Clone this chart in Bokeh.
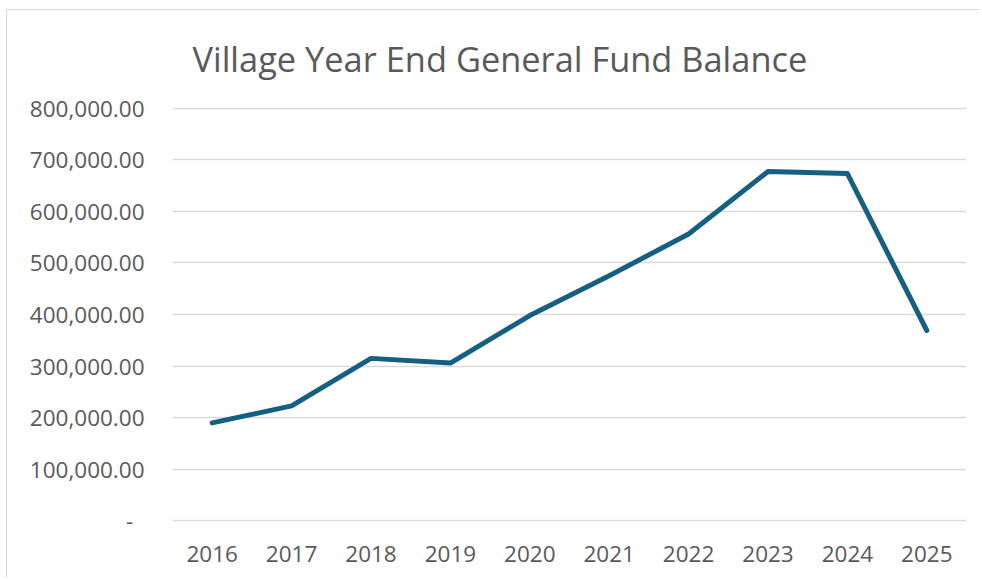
from bokeh.plotting import figure
from bokeh.models import FixedTicker, Range1d
from bokeh.embed import file_html
from bokeh.resources import INLINE

years = ["2016", "2017", "2018", "2019", "2020", "2021", "2022", "2023", "2024", "2025"]
balance = [190000, 223000, 315000, 306000, 398000, 475000, 556000, 677000, 673000, 369000]
y_ticks = [0, 100000, 200000, 300000, 400000, 500000, 600000, 700000, 800000]
y_tick_labels = ["-\u2002", "100,000.00", "200,000.00", "300,000.00", "400,000.00",
                 "500,000.00", "600,000.00", "700,000.00", "800,000.00"]
title_text = "Village Year End General Fund Balance"

FONT = "Open Sans"
GRAY = "#595959"

p = figure(x_range=years, y_range=Range1d(-1000, 801000), width=973, height=568,
           output_backend="svg", toolbar_location=None,
           min_border_left=165, min_border_right=14, min_border_top=94, min_border_bottom=57)
p.styles = {"border-left": "1px solid #d9d9d9", "border-top": "1px solid #d9d9d9",
            "margin-left": "6px", "margin-top": "9px"}

p.title.text = title_text
p.title.align = "left"
p.title.offset = 20
p.title.standoff = 48
p.title.vertical_align = "top"
p.title.text_font = FONT
p.title.text_font_size = "34.4px"
p.title.text_font_style = "normal"
p.title.text_color = GRAY

p.line(years, balance, line_color="#156082", line_width=5, line_join="round", line_cap="round")

p.outline_line_color = None
p.xgrid.grid_line_color = None
p.ygrid.grid_line_color = "#d9d9d9"
p.ygrid.grid_line_width = 1.3

p.yaxis.ticker = FixedTicker(ticks=y_ticks)
p.yaxis.major_label_overrides = dict(zip(y_ticks, y_tick_labels))
for ax in (p.xaxis[0], p.yaxis[0]):
    ax.axis_line_color = None
    ax.major_tick_line_color = None
    ax.minor_tick_line_color = None
    ax.major_label_text_font = FONT
    ax.major_label_text_font_size = "22.5px"
    ax.major_label_text_color = GRAY
p.yaxis.major_label_standoff = 22
p.xaxis.major_label_standoff = 18
p.x_range.range_padding = 0

p.background_fill_color = "white"
p.border_fill_color = "white"

open("out.html", "w").write(file_html(p, INLINE))
